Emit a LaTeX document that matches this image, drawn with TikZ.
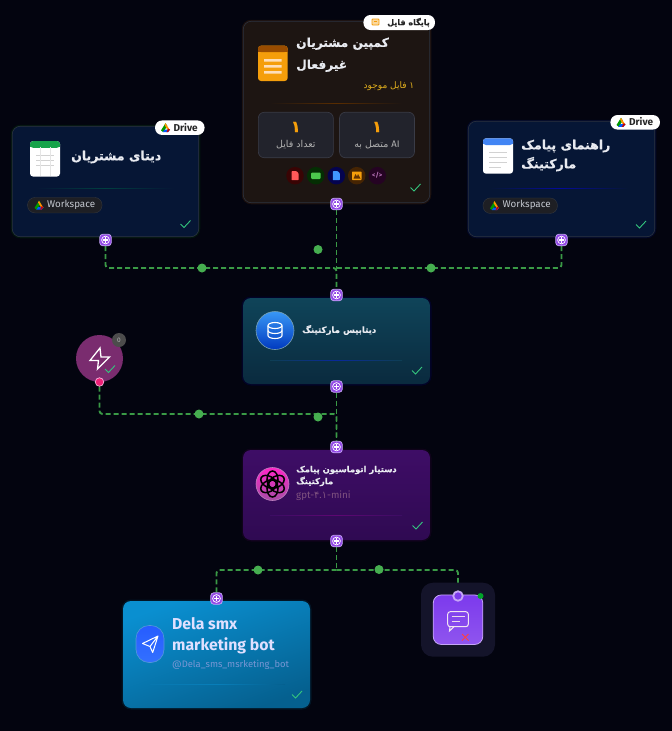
\documentclass[tikz,border=0pt]{standalone}
\usepackage{fontspec}
\setmainfont{Fira Sans}
\newfontfamily\arabicfont[Script=Arabic]{DejaVu Sans}
\newfontfamily\arabicheavy[Script=Arabic,FakeBold=.6]{DejaVu Sans Bold}
\TeXXeTstate=1
\newcommand{\fa}[1]{{\arabicfont\beginR #1\endR}}
\newcommand{\fb}[1]{{\arabicheavy\beginR #1\endR}}
\newcommand{\fs}[2]{\fontsize{#1}{#2}\selectfont}
\definecolor{pagebg}{HTML}{03040F}
\definecolor{flowc}{HTML}{3A9A46}
\definecolor{dotc}{HTML}{46AE50}
\definecolor{tickc}{HTML}{34C67E}
\definecolor{edgec}{HTML}{2C3340}
\definecolor{navy}{HTML}{061635}
\definecolor{filesc}{HTML}{1D1512}
\definecolor{goldc}{HTML}{E0AE1E}
\definecolor{orangec}{HTML}{F59E0B}
\definecolor{titlec}{HTML}{E8EAF0}
\definecolor{purplec}{HTML}{9146E6}
\definecolor{purplee}{HTML}{C6A6F7}
\definecolor{statc}{HTML}{22232C}
\definecolor{statedge}{HTML}{3A3C47}
\definecolor{dbtop}{HTML}{0F4459}
\definecolor{dbbot}{HTML}{0A2A3E}
\definecolor{agenttop}{HTML}{3E0D66}
\definecolor{agentbot}{HTML}{2F0A52}
\definecolor{bottop}{HTML}{0A8FD0}
\definecolor{botbot}{HTML}{05608F}
\definecolor{chatc}{HTML}{7C3AED}
\definecolor{chatb}{HTML}{8F55EE}
\definecolor{halo}{HTML}{14142A}
\definecolor{wsc}{HTML}{1E1F24}
\definecolor{wsedge}{HTML}{34373E}
\definecolor{wstxt}{HTML}{C4C8D0}
\definecolor{triggerc}{HTML}{7A2C6F}
\definecolor{sheetg}{HTML}{16A34A}
\definecolor{docb}{HTML}{4285F4}
\tikzset{
    every node/.style={inner sep=0pt, text=titlec}
}
\tikzset{
    card/.style={rectangle, rounded corners=8pt, draw=edgec, line width=.6pt,
    	preaction={draw=#1, line width=3pt, opacity=.1}},
    card/.default=blue,
    flow/.style={draw=flowc, line width=1.9pt, dash pattern=on 5pt off 3pt, rounded corners=3pt},
    port/.style={rectangle, rounded corners=3pt, minimum size=11.5pt, fill=purplec,
    	draw=purplee, line width=.7pt, path picture={
    	\draw [white, line width=.7pt] (path picture bounding box.center) circle (3.9pt);
    	\draw [white, line width=1.1pt] ([xshift=-2.8pt]path picture bounding box.center) -- ([xshift=2.8pt]path picture bounding box.center);
    	\draw [white, line width=1.1pt] ([yshift=-2.8pt]path picture bounding box.center) -- ([yshift=2.8pt]path picture bounding box.center);
    	}},
    flowdot/.style={circle, fill=dotc, minimum size=9pt},
    pill/.style={rectangle, rounded corners=7pt, fill=white},
    wspill/.style={rectangle, rounded corners=7.5pt, fill=wsc, draw=wsedge, minimum width=74.5pt, minimum height=15.5pt},
    wstext/.style={font=\fs{9.8}{10}, text=wstxt, anchor=west},
    dark/.style={font=\fs{8}{9}\bfseries, text=black!85},
    minibox/.style={rectangle, rounded corners=6pt, fill=statc, draw=statedge, line width=.6pt, minimum width=75pt, minimum height=45.5pt},
    round/.style={circle, minimum size=17.5pt},
    tick/.pic={\draw [tickc, line width=.9pt] (-5,0) -- (-1.5,3.5) -- (5,-3.5);},
    drive/.pic={
    	\fill [green!60!black] (0,-5) -- (-5,3) -- (-2.5,5) -- (2,-2) -- cycle;
    	\fill [orange!85!yellow] (0,-5) -- (5,3) -- (2.5,3) -- (-1,-3) -- cycle;
    	\fill [blue!65!cyan] (-3,5) -- (3,5) -- (5,2) -- (-1,2) -- cycle;
    	\fill [red!80!black] (2.5,5) -- (5,2) -- (3,1) -- (1,5) -- cycle;
    },
    sheet/.pic={
    	\fill [white, rounded corners=3pt] (-15,-17.7) rectangle (15,17.7);
    	\fill [#1, rounded corners=3pt] (-15,-17.7) rectangle (15,-11);
    	\fill [#1] (-15,-14) rectangle (15,-12.3);
    },
    bar/.style={draw=gray!35, line width=1pt},
    minifile/.pic={\fill [#1, rounded corners=.6pt] (-3.5,-4.5) -- (1.5,-4.5) -- (3.5,-2.5) -- (3.5,4.5) -- (-3.5,4.5) -- cycle;}
}
\pgfdeclarelayer{background}
\pgfsetlayers{background,main}

\begin{document}
\begin{tikzpicture}[x=1pt, y=-1pt]
  \useasboundingbox (0,0) rectangle (672,731);
  \begin{pgfonlayer}{background}
  \fill [pagebg] (0,0) rectangle (672,731);
  \end{pgfonlayer}

  \node (filescard) [card=orange, fill=filesc, minimum width=186.5pt, minimum height=181.5pt] at (336.5,112) {};
  \node (datacard) [card=green!70!black, fill=navy, minimum width=186.5pt, minimum height=110.5pt] at (105.5,181.5) {};
  \node (guidecard) [card=blue!80!cyan, fill=navy, minimum width=186.5pt, minimum height=115.5pt] at (561.5,179) {};
  \node (dbcard) [card=blue, top color=dbtop, bottom color=dbbot, draw=none, minimum width=187pt, minimum height=86pt] at (336.5,341) {};
  \node (agentcard) [card=violet, top color=agenttop, bottom color=agentbot, draw=none, minimum width=187pt, minimum height=90pt] at (336.5,495) {};
  \node (botcard) [card=cyan, top color=bottop, bottom color=botbot, shading angle=20, draw=none, minimum width=187pt, minimum height=107pt] at (216.5,654.5) {};

  \node (trigger) [circle, fill=triggerc, minimum size=47pt] at (99.5,358.5) {};
  \node (triggerbadge) [circle, fill=gray!60!black, minimum size=14pt, font=\fs{6.5}{7}, text=gray!60!white] at (119,340) {0};
  \node (triggerport) [circle, fill=magenta!70!red!90!white, draw=white!70!magenta, line width=.7pt, minimum size=8.5pt] at (99.5,382) {};

  \node (chathalo) [rectangle, rounded corners=12pt, fill=halo, minimum width=74pt, minimum height=74pt] at (458,619.7) {};
  \node (chatbox) [rectangle, rounded corners=8pt, top color=chatc, bottom color=chatb, draw=purplee, line width=.8pt, minimum width=49.5pt, minimum height=49.5pt] at (458,619.7) {};
  \node (chatport) [circle, fill=chatc, draw=purplee, line width=1.8pt, minimum size=9.5pt] at (458,596) {};
  \node (chatdot) [circle, fill=green!60!teal!80!black, minimum size=6pt] at (480.5,596) {};

  \node (fileport) [port] at (336.5,204) {};
  \node (dataport) [port] at (105.5,240) {};
  \node (guideport) [port] at (561.5,240) {};
  \node (dbin) [port] at (336.5,295) {};
  \node (dbout) [port] at (336.5,386.5) {};
  \node (agentin) [port] at (336.5,447) {};
  \node (agentout) [port] at (336.5,541) {};
  \node (botin) [port] at (216.5,598.5) {};

  \coordinate (dbjoin) at (336.5,268);
  \coordinate (agentjoin) at (336.5,414);
  \coordinate (splitjoin) at (336.5,570);

  \begin{pgfonlayer}{background}
  \draw [flow] (dataport) |- (dbjoin) -- (dbin);
  \draw [flow] (guideport) |- (dbjoin);
  \draw [flow] (fileport) -- (dbin);
  \draw [flow] (triggerport) |- (agentjoin) -- (agentin);
  \draw [flow] (dbout) -- (agentin);
  \draw [flow] (agentout) -- (splitjoin);
  \draw [flow] (splitjoin) -| (botin);
  \draw [flow] (splitjoin) -| (chatport);
  \end{pgfonlayer}

  \node (dot1) [flowdot] at (202,268) {};
  \node (dot2) [flowdot] at (431,268) {};
  \node (dot3) [flowdot] at (318,249.5) {};
  \node (dot4) [flowdot] at (199,414) {};
  \node (dot5) [flowdot] at (318,417) {};
  \node (dot6) [flowdot] at (258,570) {};
  \node (dot7) [flowdot] at (379,569.5) {};

  \node (filestag) [pill, minimum width=71.5pt, minimum height=15pt] at (399.2,22.5) {};
  \node (filestagtext) [dark, anchor=east] at (430,22.5) {\fb{پایگاه فایل}};
  \draw [orangec, fill=orangec!40, rounded corners=.8pt, line width=.8pt] (372,19) rectangle (379,25);
  \draw [orangec, line width=.8pt] (374,21.5) -- (377,21.5);

  \fill [orangec, rounded corners=3pt] (258,45.7) rectangle (287.7,81);
  \fill [orange!60!black, rounded corners=3pt] (258,45.7) rectangle (287.7,52);
  \fill [orange!60!black] (258,49.5) rectangle (287.7,51.8);
  \fill [orange!20!white, opacity=.9] (264,59) rectangle (281.5,61.5) (264,65) rectangle (281.5,67.5) (264,71) rectangle (281.5,73.5);

  \node (filestitle) [anchor=west, align=left, font=\fs{12.2}{22}] at (296,54.7) {\fb{کمپین مشتریان}\\\fb{غیرفعال}};
  \node (filescount) [anchor=east, font=\fs{9}{10}, text=goldc] at (414.5,85.7) {\fa{۱ فایل موجود}};
  \shade [left color=filesc, right color=filesc, middle color=orange!35!black] (270,103) rectangle (402,103.8);

  \node (statfiles) [minibox] at (295.8,135) {};
  \node (statai) [minibox] at (377,135) {};
  \node (statfilesnum) [font=\fs{16}{18}, text=orangec] at (295.8,127) {\fb{۱}};
  \node (stataium) [font=\fs{16}{18}, text=orangec] at (377,127) {\fb{۱}};
  \node (statfileslabel) [font=\fs{9.5}{10}, text=gray!60!white] at (295.8,145) {\fa{تعداد فایل}};
  \node (statailabel) [font=\fs{9.5}{10}, text=gray!60!white] at (377,145) {\fa{\beginL{\fontspec{Fira Sans}AI}\endL\ متصل به}};

  \node (filered) [round, fill=red!25!black!80!filesc] at (295,175.7) {};
  \node (filegreen) [round, fill=green!20!black!85!filesc] at (315.7,175.7) {};
  \node (fileblue) [round, fill=blue!35!black!85!filesc] at (336.3,175.7) {};
  \node (fileorange) [round, fill=orange!30!black!85!filesc] at (356.7,175.7) {};
  \node (filecode) [round, fill=violet!30!black!85!filesc] at (377.3,175.7) {};
  \pic at (295,175.7) {minifile=red!65!white};
  \fill [green!70!black!70!white, rounded corners=1pt] (311,172.5) rectangle (320.5,179);
  \pic at (336.3,175.7) {minifile=blue!55!cyan!75!white};
  \fill [orangec, rounded corners=.6pt] (352,171.5) rectangle (361.5,180);
  \fill [black!60!orange] (353.5,178.5) -- (355.5,174) -- (357,176.5) -- (358,174) -- (360.5,178.5) -- cycle;
  \node (filecodetext) [font=\fs{6.5}{7}\bfseries, text=violet!55!white] at (377.3,175.5) {</>};
  \pic at (415.5,187.5) {tick};

  \node (datatag) [pill, minimum width=49.5pt, minimum height=14.5pt] at (179.8,127.7) {};
  \pic [scale=.9] at (165.5,127.7) {drive};
  \node (datatagtext) [dark, font=\fs{10}{11}\bfseries, anchor=west] at (173.5,127.2) {Drive};
  \pic at (45,158.8) {sheet=sheetg};
  \draw [bar] (36,155) -- (54,155) (36,160) -- (54,160) (36,165) -- (54,165);
  \draw [gray!20, line width=.6pt] (40,147) -- (40,176) (50,147) -- (50,176);
  \node (datatitle) [anchor=west, font=\fs{12.5}{14}] at (71,157) {\fb{دیتای مشتریان}};
  \shade [left color=navy, right color=navy, middle color=teal!50!black] (36,188) rectangle (174,188.7);
  \node (dataws) [wspill] at (64.8,205.2) {};
  \pic [scale=.9] at (39,205.2) {drive};
  \node (datawstext) [wstext] at (47,205) {Workspace};
  \pic at (185.5,224) {tick};

  \node (guidetag) [pill, minimum width=49.5pt, minimum height=14.5pt] at (635.2,122.3) {};
  \pic [scale=.9] at (621,122.3) {drive};
  \node (guidetagtext) [dark, font=\fs{10}{11}\bfseries, anchor=west] at (629,122) {Drive};
  \pic at (498,156) {sheet=docb};
  \draw [bar] (489,152) -- (507,152) (489,157) -- (507,157) (489,162) -- (507,162) (489,167) -- (501,167);
  \node (guidetitle) [anchor=west, align=left, font=\fs{12.5}{19}] at (521,155.5) {\fb{راهنمای پیامک}\\\fb{مارکتینگ}};
  \shade [left color=navy, right color=navy, middle color=blue!50!navy] (490,188) rectangle (628,188.7);
  \node (guidews) [wspill] at (520.2,205.7) {};
  \pic [scale=.9] at (494.5,205.7) {drive};
  \node (guidewstext) [wstext] at (502.5,205) {Workspace};
  \pic at (641,224.5) {tick};

  \node (dblogo) [circle, top color=docb!85!cyan, bottom color=blue!70!cyan!75!black, draw=cyan!35!gray, line width=.6pt, minimum size=38pt] at (275,330.5) {};
  \draw [white, line width=1.1pt] (275,325.5) ellipse (7 and 3);
  \draw [white, line width=1.1pt] (268,325.5) -- (268,335.5) arc (180:0:7 and 3) -- (282,325.5);
  \draw [white, line width=1.1pt] (268,330.5) arc (180:0:7 and 3);
  \node (dbtitle) [anchor=west, font=\fs{8.6}{10}] at (302,330) {\fb{دیتابیس مارکتینگ}};
  \shade [left color=dbtop!80!dbbot, right color=dbtop!80!dbbot, middle color=blue!40!dbtop] (270,360) rectangle (402,360.7);
  \pic at (417,370.5) {tick};

  \draw [white, line width=1.3pt, line join=miter] (100,348) -- (90,360.5) -- (98.5,360.5) -- (97.5,369) -- (109.5,357) -- (101,357) -- cycle;
  \pic at (110,369) {tick};

  \node (agentlogo) [circle, top color=magenta!75!red!85!white, bottom color=violet!70!white, draw=violet!50!white, line width=.6pt, minimum size=33pt] at (272.5,484) {};
  \foreach \a in {0,60,...,300}
    \draw [black, line width=1.5pt, rotate around={\a:(272.5,484)}] (272.5,479.5) ellipse (5.5 and 8.5);
  \node (agenttitle) [anchor=west, align=left, font=\fs{8.4}{12}] at (296,476) {\fb{دستیار اتوماسیون پیامک}\\\fb{مارکتینگ}};
  \node (agentmodel) [anchor=west, font=\fs{9.8}{11}, text=violet!35!gray] at (296,495.5) {gpt-{\arabicfont ۴}.{\arabicfont ۱}-mini};
  \shade [left color=agenttop!90!agentbot, right color=agenttop!90!agentbot, middle color=violet!50!agenttop] (270,515) rectangle (402,515.7);
  \pic at (417.5,525.5) {tick};

  \node (botlogo) [rectangle, rounded corners=13pt, top color=blue!75!cyan!85!white, bottom color=blue!70!cyan!80!white, draw=cyan!60!blue!70!white, line width=.6pt, minimum width=28pt, minimum height=37pt] at (150,644) {};
  \draw [white, line width=1pt, line join=round] (158,636) -- (142.5,643.5) -- (150,646.5) -- (152.7,652.5) -- cycle (150,646.5) -- (158,636);
  \node (bottitle) [anchor=west, align=left, font=\fs{15.8}{21}\bfseries, text=blue!12!white] at (172,635.5) {Dela smx\\marketing bot};
  \node (bothandle) [anchor=west, font=\fs{9.4}{10}, text=cyan!40!blue!55!white] at (172,665) {@Dela\_sms\_msrketing\_bot};
  \shade [left color=bottop!50!botbot, right color=botbot, middle color=bottop!65!botbot] (150,684) rectangle (285,684.7);
  \pic at (297,694.5) {tick};

  \draw [white!90!violet, line width=1pt, rounded corners=2.5pt] (447.7,611.7) rectangle (468.3,626.7);
  \draw [white!90!violet, line width=1pt] (450,626.7) -- (449.5,631) -- (454,626.7);
  \draw [white!85!violet, line width=.9pt] (451.5,616.5) -- (464.5,616.5) (451.5,621) -- (460,621);
  \draw [red!75!white, line width=.9pt] (462,634) -- (468.5,640.5) (468.5,634) -- (462,640.5);
\end{tikzpicture}
\end{document}
